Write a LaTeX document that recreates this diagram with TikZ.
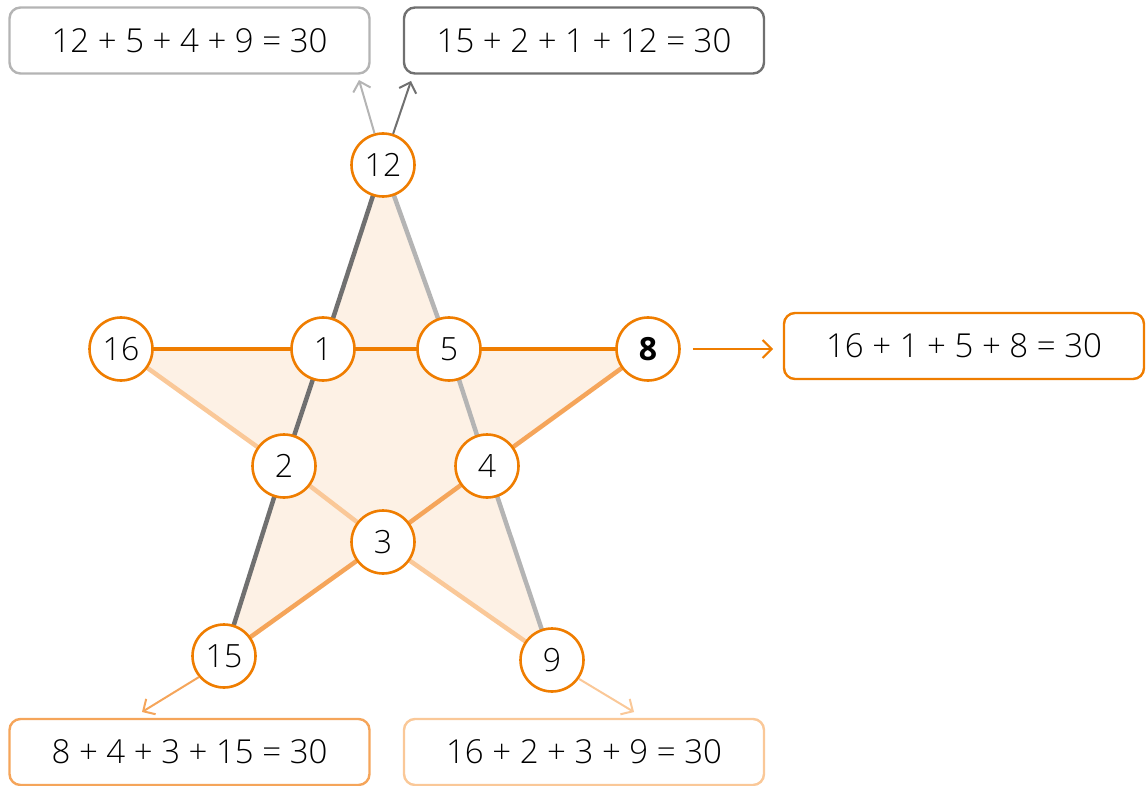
\documentclass[tikz,border=0pt]{standalone}
\usepackage{fontspec}
\setmainfont{Open Sans}[UprightFont=* Light, BoldFont=* Bold]
\usetikzlibrary{arrows.meta}
\definecolor{dgray}{HTML}{707070}
\definecolor{lgray}{HTML}{B4B4B4}
\definecolor{orn}{HTML}{EF7D00}
\definecolor{morn}{HTML}{F5A55A}
\definecolor{lorn}{HTML}{FAC898}
\definecolor{starfill}{HTML}{FDF1E5}
\tikzset{
  num/.style={circle, draw=orn, line width=2.6pt, fill=white, minimum size=63pt, inner sep=0pt, font=\fontsize{32}{38}\selectfont},
  sumbox/.style={rounded corners=11pt, line width=2.4pt, fill=white, minimum width=360pt, minimum height=66pt, inner sep=0pt, font=\fontsize{33}{40}\selectfont},
  seg/.style={line width=4.5pt},
  arr/.style={line width=2pt, -{Straight Barb[length=9pt,width=18pt,line width=2pt]}}
}
\begin{document}
\begin{tikzpicture}[x=1pt,y=-1pt]
\useasboundingbox (0,0) rectangle (1148,786);
% positions
\coordinate (p12) at (383,165);
\coordinate (p16) at (121,349);
\coordinate (p1) at (323,349);
\coordinate (p5) at (449,349);
\coordinate (p8) at (648,349);
\coordinate (p2) at (284,466);
\coordinate (p4) at (487,466);
\coordinate (p3) at (383,542);
\coordinate (p15) at (224,656);
\coordinate (p9) at (552,660);
% star fill
\fill[starfill] (p12) -- (p5) -- (p8) -- (p4) -- (p9) -- (p3) -- (p15) -- (p2) -- (p16) -- (p1) -- cycle;
% lines
\draw[seg, lorn] (p16) -- (p2) -- (p3) -- (p9);
\draw[seg, morn] (p8) -- (p4) -- (p3) -- (p15);
\draw[seg, lgray] (p12) -- (p5) -- (p4) -- (p9);
\draw[seg, dgray] (p12) -- (p1) -- (p2) -- (p15);
\draw[seg, orn] (p16) -- (p1) -- (p5) -- (p8);
% boxes
\node[sumbox, draw=lgray] (b1) at (189.5,40.5) {12 + 5 + 4 + 9 = 30};
\node[sumbox, draw=dgray] (b2) at (584,40.5) {15 + 2 + 1 + 12 = 30};
\node[sumbox, draw=orn] (b3) at (964,346) {16 + 1 + 5 + 8 = 30};
\node[sumbox, draw=morn] (b4) at (189.5,752) {8 + 4 + 3 + 15 = 30};
\node[sumbox, draw=lorn] (b5) at (584,752) {16 + 2 + 3 + 9 = 30};
% circles
\node[num] (n12) at (p12) {12};
\node[num] (n16) at (p16) {16};
\node[num] (n1) at (p1) {1};
\node[num] (n5) at (p5) {5};
\node[num] (n8) at (p8) {\bfseries 8};
\node[num] (n2) at (p2) {2};
\node[num] (n4) at (p4) {4};
\node[num] (n3) at (p3) {3};
\node[num] (n15) at (p15) {15};
\node[num] (n9) at (p9) {9};
% arrows
\coordinate (a1) at (359,80);
\coordinate (a2) at (411,81);
\coordinate (a3) at (773,349);
\coordinate (a4) at (142,712);
\coordinate (a5) at (634,712);
\draw[arr, lgray] (n12.105) -- (a1);
\draw[arr, dgray] (n12.72) -- (a2);
\draw[arr, orn] ([xshift=12pt]n8.east) -- (a3);
\draw[arr, morn] (n15.220) -- (a4);
\draw[arr, lorn] (n9.-35) -- (a5);
\end{tikzpicture}
\end{document}
